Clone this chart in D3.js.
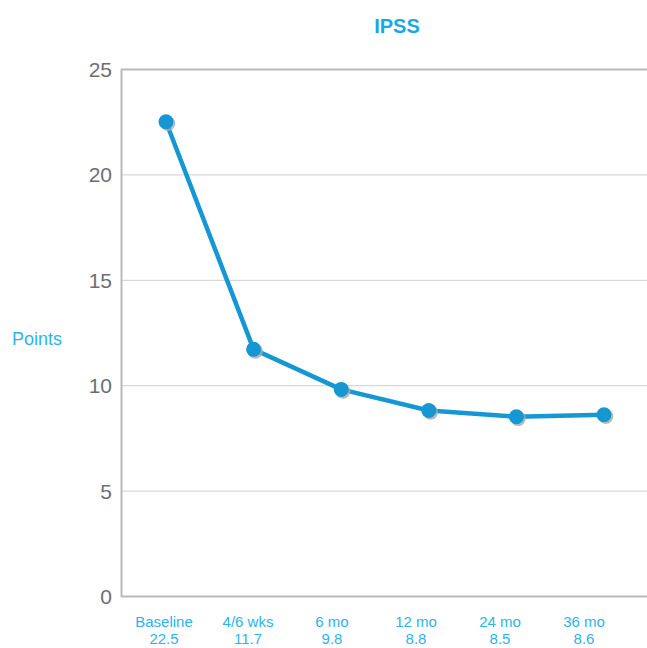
<!DOCTYPE html>
<html>
<head>
<meta charset="utf-8">
<script src="https://cdn.jsdelivr.net/npm/d3@7"></script>
<style>
  body { margin: 0; background: #fff; }
  svg text { font-family: "Liberation Sans", Arial, sans-serif; }
</style>
</head>
<body>
<svg id="chart" width="647" height="648"></svg>
<script>
const categories = ["Baseline", "4/6 wks", "6 mo", "12 mo", "24 mo", "36 mo"];
const values = [22.5, 11.7, 9.8, 8.8, 8.5, 8.6];
const valueLabels = ["22.5", "11.7", "9.8", "8.8", "8.5", "8.6"];
const yTicks = [0, 5, 10, 15, 20, 25];

const blue = "#1597d3";
const labelBlue = "#2cb4ea";

const svg = d3.select("#chart");

const x = d3.scalePoint().domain(categories).range([166, 604]);
// category labels sit slightly left of the points in the original
const xLabel = d3.scalePoint().domain(categories).range([164, 584]);
const y = d3.scaleLinear().domain([0, 25]).range([596, 69]);

// gridlines
svg.append("g")
    .selectAll("line")
    .data(yTicks)
    .join("line")
    .attr("x1", 121)
    .attr("x2", 647)
    .attr("y1", (d) => y(d) + 0.5)
    .attr("y2", (d) => y(d) + 0.5)
    .attr("stroke", (d) => (d === 0 || d === 25 ? "#b9b9bb" : "#cfcfd1"))
    .attr("stroke-width", (d) => (d === 0 || d === 25 ? 2 : 1));

// left axis line
svg.append("line")
    .attr("x1", 121.5)
    .attr("x2", 121.5)
    .attr("y1", y(25))
    .attr("y2", y(0) + 1)
    .attr("stroke", "#b9b9bb")
    .attr("stroke-width", 2);

// y tick labels
svg.append("g")
    .selectAll("text")
    .data(yTicks)
    .join("text")
    .attr("x", 112)
    .attr("y", (d) => y(d) + 8)
    .attr("text-anchor", "end")
    .attr("fill", "#6d6e71")
    .style("font-size", "21px")
    .text((d) => d);

// y title
svg.append("text")
    .attr("x", 12)
    .attr("y", 345)
    .attr("fill", labelBlue)
    .style("font-size", "18px")
    .text("Points");

// chart title
svg.append("text")
    .attr("x", 397)
    .attr("y", 33)
    .attr("text-anchor", "middle")
    .attr("fill", "#16a9e6")
    .style("font-size", "20px")
    .style("font-weight", "bold")
    .text("IPSS");

// x labels
const xl = svg.append("g")
    .selectAll("g")
    .data(categories)
    .join("g")
    .attr("transform", (d) => `translate(${xLabel(d)},0)`);
xl.append("text")
    .attr("y", 627)
    .attr("text-anchor", "middle")
    .attr("fill", labelBlue)
    .style("font-size", "15px")
    .text((d) => d);
xl.append("text")
    .attr("y", 644)
    .attr("text-anchor", "middle")
    .attr("fill", labelBlue)
    .style("font-size", "15px")
    .text((d, i) => valueLabels[i]);

const data = categories.map((c, i) => ({ cat: c, value: values[i] }));

// line
svg.append("path")
    .datum(data)
    .attr("fill", "none")
    .attr("stroke", blue)
    .attr("stroke-width", 4.5)
    .attr("stroke-linejoin", "round")
    .attr("d", d3.line().x((d) => x(d.cat)).y((d) => y(d.value)));

// marker shadows
svg.append("g")
    .selectAll("circle")
    .data(data)
    .join("circle")
    .attr("cx", (d) => x(d.cat) + 1.8)
    .attr("cy", (d) => y(d.value) + 1.8)
    .attr("r", 7.5)
    .attr("fill", "#a7a9ac")
    .attr("opacity", 0.8);

// markers
svg.append("g")
    .selectAll("circle")
    .data(data)
    .join("circle")
    .attr("cx", (d) => x(d.cat))
    .attr("cy", (d) => y(d.value))
    .attr("r", 7.5)
    .attr("fill", blue);
</script>
</body>
</html>
